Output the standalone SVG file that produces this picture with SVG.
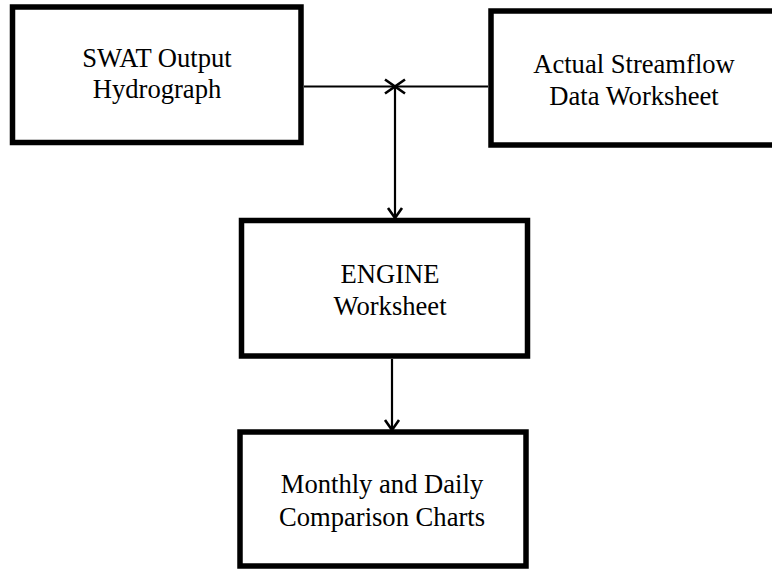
<svg xmlns="http://www.w3.org/2000/svg" width="772" height="569" viewBox="0 0 772 569">
<style>
.box{fill:#fff;stroke:#000;stroke-width:5.5}
.lbl{font-family:"Liberation Serif","Times New Roman",serif;font-size:26.6px;fill:#000;text-anchor:middle}
.con{fill:none;stroke:#000;stroke-width:2.2}
</style>
<defs>
<marker id="arr" markerUnits="userSpaceOnUse" markerWidth="20" markerHeight="20" refX="0" refY="0" viewBox="-12 -10 14 20" orient="auto">
<path d="M-10,-7 L0,0 L-10,7" fill="none" stroke="#000" stroke-width="2.6"/>
</marker>
</defs>
<rect width="772" height="569" fill="#fff"/>
<g id="swat">
<rect class="box" x="12.5" y="7" width="288.5" height="135.5"/>
<text class="lbl" x="157" y="67">SWAT Output</text>
<text class="lbl" x="157" y="98">Hydrograph</text>
</g>
<g id="actual">
<rect class="box" x="491" y="11" width="300" height="134"/>
<text class="lbl" x="634" y="73">Actual Streamflow</text>
<text class="lbl" x="634" y="105">Data Worksheet</text>
</g>
<g id="engine">
<rect class="box" x="241.5" y="220.5" width="286" height="135.5"/>
<text class="lbl" x="390" y="283">ENGINE</text>
<text class="lbl" x="390" y="315">Worksheet</text>
</g>
<g id="charts">
<rect class="box" x="240" y="432" width="286" height="134"/>
<text class="lbl" x="382" y="493">Monthly and Daily</text>
<text class="lbl" x="382" y="526">Comparison Charts</text>
</g>
<g id="connectors">
<line class="con" x1="304" y1="86.5" x2="395" y2="86.5" marker-end="url(#arr)"/>
<line class="con" x1="488" y1="86.5" x2="395" y2="86.5" marker-end="url(#arr)"/>
<line class="con" x1="395" y1="86.5" x2="395" y2="218" marker-end="url(#arr)"/>
<line class="con" x1="392" y1="359" x2="392" y2="430" marker-end="url(#arr)"/>
</g>
</svg>
